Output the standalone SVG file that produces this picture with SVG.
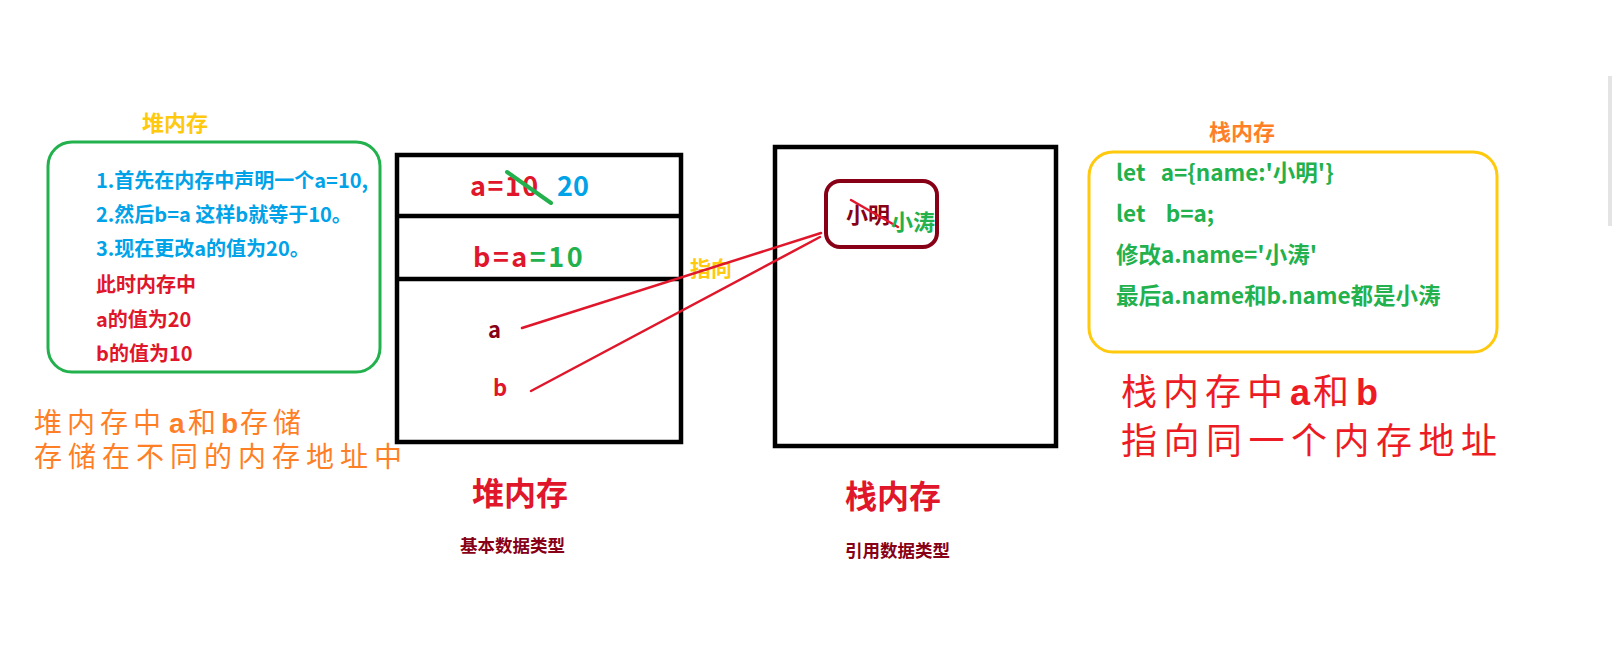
<svg xmlns="http://www.w3.org/2000/svg" width="1614" height="667" viewBox="0 0 1614 667">
<style>
text{font-family:"Noto Sans CJK SC","Liberation Sans",sans-serif;font-weight:bold}
.blue{fill:#00a2e8}
.red{fill:#e0162b}
.dred{fill:#880015}
.green{fill:#22b14c}
.yellow{fill:#ffc90e}
.orange{fill:#ff7f27}
.box{fill:none;stroke:#000;stroke-width:4.5}
.thin{font-weight:normal}
.lat{font-family:"Liberation Sans",sans-serif;font-weight:bold}
.conn{stroke:#e0162b;stroke-width:2.5;fill:none;stroke-linecap:round}
</style>
<rect width="1614" height="667" fill="#fff"/>
<rect x="1608" y="76" width="4" height="150" fill="#e4e4e4"/>

<g id="heap-note">
  <text x="142" y="131" font-size="22" class="yellow">堆内存</text>
  <rect x="48" y="142" width="332" height="230" rx="24" fill="none" stroke="#22b14c" stroke-width="3"/>
  <g font-size="20">
    <text x="96" y="188" class="blue">1.首先在内存中声明一个a=10,</text>
    <text x="96" y="222" class="blue">2.然后b=a 这样b就等于10。</text>
    <text x="96" y="256" class="blue">3.现在更改a的值为20。</text>
    <text x="96" y="292" class="red">此时内存中</text>
    <text x="96" y="327" class="red">a的值为20</text>
    <text x="96" y="361" class="red">b的值为10</text>
  </g>
</g>

<g id="heap-summary" font-size="28" class="orange">
  <text x="34" y="433" letter-spacing="5" class="thin">堆内存中</text>
  <text x="169" y="433" class="lat">a</text>
  <text x="188" y="433" class="thin">和</text>
  <text x="221" y="433" class="lat">b</text>
  <text x="240" y="433" letter-spacing="5" class="thin">存储</text>
  <text x="34" y="467" letter-spacing="6" class="thin">存储在不同的内存地址中</text>
</g>

<g id="heap-box">
  <rect x="397" y="155" width="284" height="287" class="box"/>
  <line x1="397" y1="216" x2="681" y2="216" stroke="#000" stroke-width="4.5"/>
  <line x1="397" y1="279" x2="681" y2="279" stroke="#000" stroke-width="4.5"/>
  <text x="470" y="196" font-size="27" letter-spacing="1.5" class="red">a=10</text>
  <line x1="507" y1="172" x2="551" y2="203" stroke="#22b14c" stroke-width="4" stroke-linecap="round"/>
  <text x="557" y="196" font-size="27" class="blue">20</text>
  <text x="473" y="267" font-size="27" letter-spacing="2.5" class="red">b=a<tspan class="green">=10</tspan></text>
  <text x="488" y="338" font-size="22" class="dred">a</text>
  <text x="493" y="396" font-size="22" class="red">b</text>
  <text x="472" y="505" font-size="32" class="red">堆内存</text>
  <text x="460" y="552" font-size="17.5" class="dred">基本数据类型</text>
</g>

<g id="stack-box">
  <rect x="775" y="147" width="281" height="299" class="box"/>
  <rect x="826" y="181" width="111" height="66" rx="14" fill="none" stroke="#880015" stroke-width="4"/>
  <text x="846" y="223" font-size="22" class="dred">小明</text>
  <line x1="851" y1="200" x2="898" y2="227" stroke="#e0162b" stroke-width="2.5" stroke-linecap="round"/>
  <text x="891" y="230" font-size="22" class="green">小涛</text>
  <text x="845" y="508" font-size="32" class="red">栈内存</text>
  <text x="845" y="557" font-size="17.5" class="dred">引用数据类型</text>
</g>

<g id="stack-note">
  <text x="1209" y="140" font-size="22" class="orange">栈内存</text>
  <rect x="1089" y="152" width="408" height="200" rx="24" fill="none" stroke="#ffc90e" stroke-width="3"/>
  <g font-size="22.5" class="green">
    <text x="1116" y="181" xml:space="preserve">let   a={name:'小明'}</text>
    <text x="1116" y="222" xml:space="preserve">let    b=a;</text>
    <text x="1116" y="263">修改a.name='小涛'</text>
    <text x="1116" y="304">最后a.name和b.name都是小涛</text>
  </g>
</g>

<g id="stack-summary" font-size="36" fill="#ed1c24">
  <text x="1121" y="405" letter-spacing="6" class="thin">栈内存中</text>
  <text x="1290" y="405" class="lat">a</text>
  <text x="1313" y="405" class="thin">和</text>
  <text x="1356" y="405" class="lat">b</text>
  <text x="1121" y="454" letter-spacing="6.5" class="thin">指向同一个内存地址</text>
</g>

<g id="pointer-label">
  <text x="690" y="276" font-size="21" class="yellow">指向</text>
</g>

<g id="connectors">
  <line x1="522" y1="328" x2="821" y2="233" class="conn"/>
  <line x1="531" y1="391" x2="820" y2="237" class="conn"/>
</g>
</svg>
